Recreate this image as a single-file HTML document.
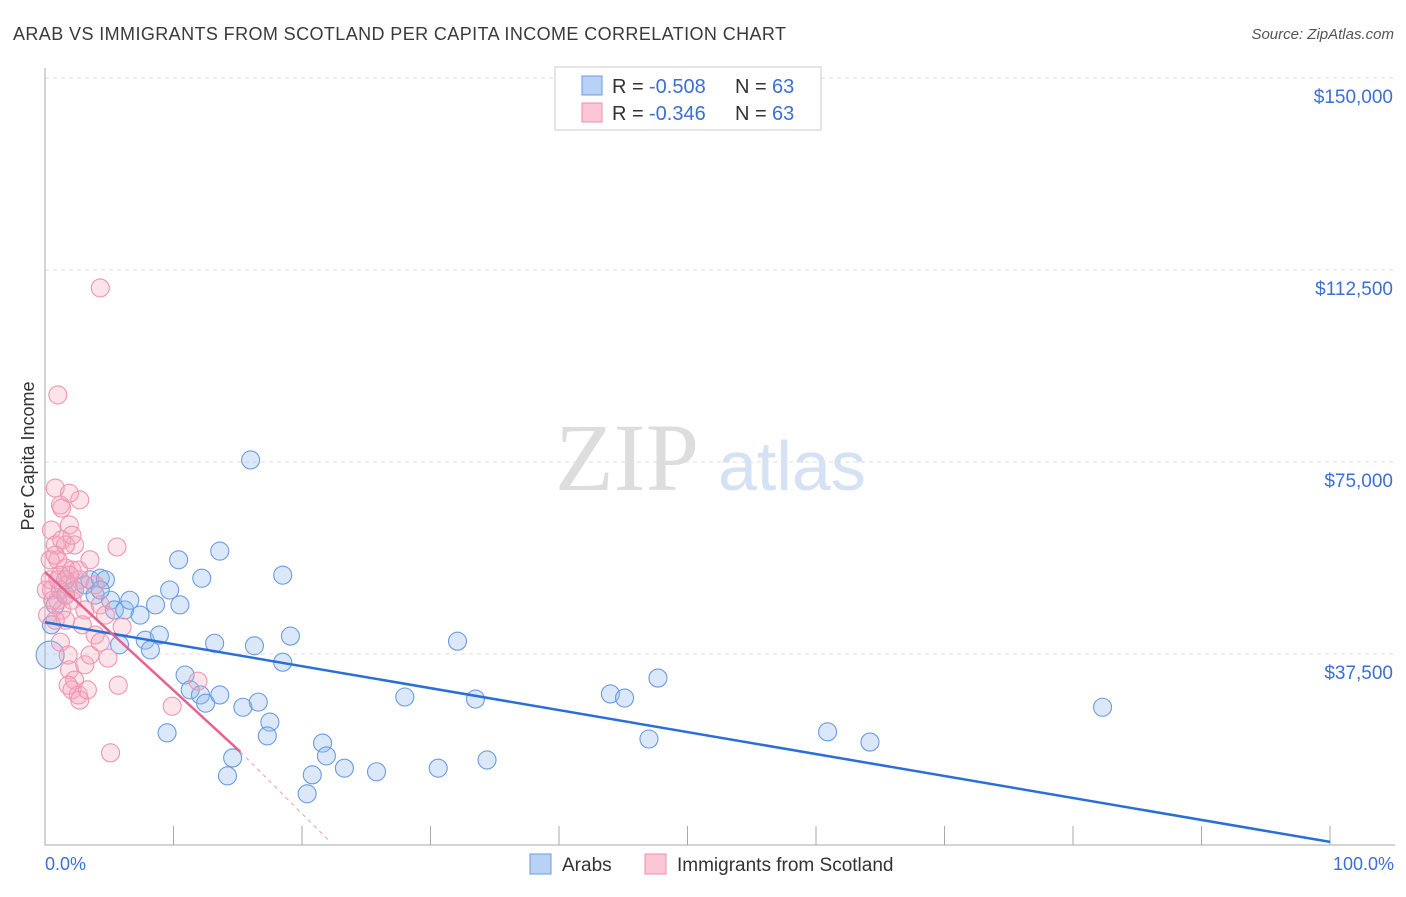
<!DOCTYPE html>
<html><head><meta charset="utf-8"><style>
body{margin:0;background:#fff;font-family:"Liberation Sans",sans-serif;}
</style></head><body>
<svg width="1406" height="892" xmlns="http://www.w3.org/2000/svg" font-family="Liberation Sans, sans-serif">
<text x="13" y="40" font-size="18" fill="#3a3a3a" textLength="773">ARAB VS IMMIGRANTS FROM SCOTLAND PER CAPITA INCOME CORRELATION CHART</text>
<text x="1394" y="39" font-size="15" fill="#555" text-anchor="end" font-style="italic">Source: ZipAtlas.com</text>
<text x="555" y="490" font-size="96" fill="#ddd" font-family="Liberation Serif, serif">ZIP</text>
<text x="718" y="490" font-size="70" fill="#d5e2f5">atlas</text>
<g id="grid"></g>
<g id="axes"></g>
<g id="marks"></g>
<text transform="translate(34,456) rotate(-90)" font-size="18" fill="#333" text-anchor="middle">Per Capita Income</text>
<text x="45" y="870" font-size="18" fill="#3b6fd4">0.0%</text>
<text x="1394" y="870" font-size="18" fill="#3b6fd4" text-anchor="end">100.0%</text>
<g>
<rect x="555" y="67" width="266" height="63" fill="#fff" stroke="#ccc"/>
<rect x="582" y="76" width="20" height="19" fill="#b8d2f5" stroke="#6b9be0"/>
<rect x="582" y="103" width="20" height="19" fill="#fbc6d5" stroke="#ee8fab"/>
<text x="612" y="93" font-size="20" fill="#333">R =</text>
<text x="649" y="93" font-size="20" fill="#3b6fd4">-0.508</text>
<text x="735" y="93" font-size="20" fill="#333">N =</text>
<text x="772" y="93" font-size="20" fill="#3b6fd4">63</text>
<text x="612" y="120" font-size="20" fill="#333">R =</text>
<text x="649" y="120" font-size="20" fill="#3b6fd4">-0.346</text>
<text x="735" y="120" font-size="20" fill="#333">N =</text>
<text x="772" y="120" font-size="20" fill="#3b6fd4">63</text>
</g>
<g>
<rect x="530" y="854" width="21" height="20" fill="#b8d2f5" stroke="#6b9be0"/>
<text x="562" y="871" font-size="19" fill="#333">Arabs</text>
<rect x="645" y="854" width="21" height="20" fill="#fbc6d5" stroke="#ee8fab"/>
<text x="677" y="871" font-size="19" fill="#333">Immigrants from Scotland</text>
</g>
</svg>
<script>
const yTicks=[37500,75000,112500,150000];
const yTickLabels=["$37,500","$75,000","$112,500","$150,000"];
const arabX=[0.4,0.8,1.2,1.6,2.3,3.1,3.5,4.3,4.7,3.9,5.1,5.4,6.2,6.6,7.4,8.6,10.4,9.7,10.5,12.2,13.6,16.0,18.5,4.3,5.8,7.8,8.2,8.9,10.9,11.3,12.1,12.5,13.2,13.6,15.4,16.3,16.6,17.5,17.3,18.5,19.1,14.6,14.2,9.5,21.6,21.9,20.8,20.4,23.3,25.8,30.6,34.4,28.0,32.1,33.5,44.0,45.1,47.7,47.0,60.9,64.2,82.3,1.6,0.5];
const arabY=[37.3,47.1,50.0,49.0,50.0,51.0,52.0,52.3,52.0,49.0,48.0,46.1,46.1,48.0,45.1,47.1,55.9,50.0,47.1,52.3,57.6,75.4,52.9,50.0,39.3,40.2,38.3,41.2,33.4,30.5,29.5,27.9,39.6,29.5,27.1,39.1,28.1,24.2,21.5,35.9,41.0,17.2,13.7,22.1,20.1,17.6,13.9,10.2,15.2,14.5,15.2,16.8,29.1,40.0,28.7,29.7,28.9,32.8,20.9,22.3,20.3,27.1,52.0,43.2];
const scotX=[0.8,1.2,0.5,1.0,0.8,1.3,1.9,2.7,1.9,2.3,1.6,2.1,0.4,0.5,1.0,1.3,1.8,2.7,2.1,1.6,2.9,1.2,1.8,1.9,2.3,2.1,2.6,2.7,3.3,3.1,3.9,3.5,4.3,4.9,5.6,6.0,5.7,4.3,1.0,9.9,5.1,11.9,0.2,0.4,0.8,1.6,2.6,1.2,0.6,0.1,2.1,3.1,4.3,4.7,3.9,1.3,1.6,1.0,1.9,0.8,3.5,2.3,1.8];
const scotY=[69.9,66.6,61.7,55.9,58.8,59.8,62.7,67.6,68.9,58.8,54.3,53.9,52.0,50.0,48.0,46.1,51.0,52.0,48.0,44.1,43.2,39.8,37.3,34.4,32.4,30.5,29.5,28.5,30.5,35.4,41.2,37.3,39.8,36.7,58.4,42.8,31.4,109.0,88.1,27.3,18.2,32.2,45.1,55.9,44.1,58.8,53.9,52.9,48.0,50.0,60.7,46.1,47.1,45.1,51.0,66.0,49.0,52.0,52.9,56.8,55.9,50.0,31.4];
const arabTrend=[[0,43.7],[100,0.8]];
const scotTrend=[[0,53.5],[15.2,18.4]];
const scotTrendExt=[[15.2,18.4],[22.2,0.8]];
const NS="http://www.w3.org/2000/svg";
const X=v=>45+v*12.85;
const Y=v=>846-v*1000/37500*192;
function mk(t,a,p){const e=document.createElementNS(NS,t);for(const k in a)e.setAttribute(k,a[k]);p.appendChild(e);return e;}
const grid=document.getElementById('grid'),axes=document.getElementById('axes'),marks=document.getElementById('marks');
yTicks.forEach((t,i)=>{
 const l=mk('line',{x1:45,x2:1395,y1:Y(t/1000),y2:Y(t/1000),stroke:'#ddd','stroke-dasharray':'4,4'},grid);
 
 
 const tx=mk('text',{x:1393,y:Y(t/1000)+25,'font-size':19,fill:'#3b6fd4','text-anchor':'end'},grid);
 tx.textContent=yTickLabels[i];
 
 
});
const ya=mk('line',{x1:45,x2:45,y1:68,y2:845,stroke:'#aaa'},axes);


const xa=mk('line',{x1:45,x2:1395,y1:845,y2:845,stroke:'#aaa'},axes);


for(let i=0;i<=10;i++){
 const t=mk('line',{x1:X(i*10),x2:X(i*10),y1:826,y2:845,stroke:'#aaa'},axes);
 
 
}
arabX.forEach((v,i)=>{
 const c=mk('circle',{cx:X(v),cy:Y(arabY[i]),r:i===0?14:9,fill:'rgba(150,188,238,0.35)',stroke:'#6b9be0','stroke-width':1.1},marks);
 
 
});
scotX.forEach((v,i)=>{
 const c=mk('circle',{cx:X(v),cy:Y(scotY[i]),r:9,fill:'rgba(245,165,190,0.3)',stroke:'#ee95b0','stroke-width':1.1},marks);
 
 
});
const bl=mk('line',{x1:X(arabTrend[0][0]),y1:Y(arabTrend[0][1]),x2:X(arabTrend[1][0]),y2:Y(arabTrend[1][1]),stroke:'#2a6fd6','stroke-width':2.5},marks);


const pl=mk('line',{x1:X(scotTrend[0][0]),y1:Y(scotTrend[0][1]),x2:X(scotTrend[1][0]),y2:Y(scotTrend[1][1]),stroke:'#e8628c','stroke-width':2.5},marks);


const pd=mk('line',{x1:X(scotTrendExt[0][0]),y1:Y(scotTrendExt[0][1]),x2:X(scotTrendExt[1][0]),y2:Y(scotTrendExt[1][1]),stroke:'#e8a0b5','stroke-width':1,'stroke-dasharray':'4,4'},marks);


</script>
</body></html>
